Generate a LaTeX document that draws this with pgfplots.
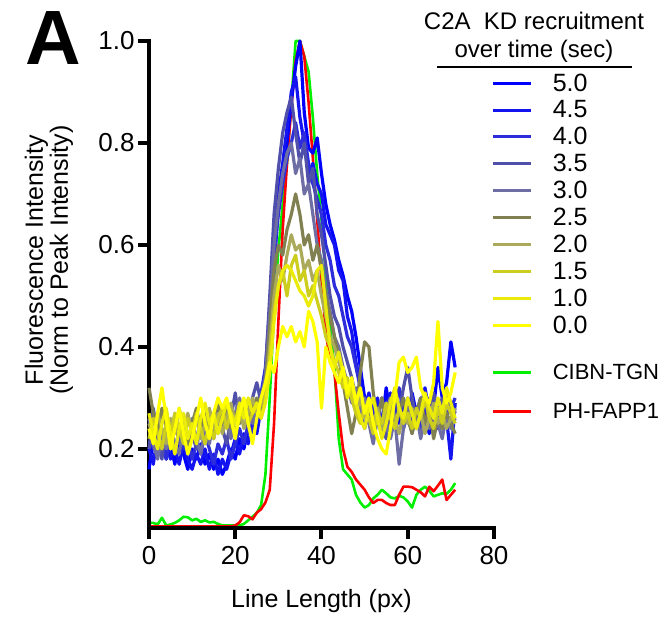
\documentclass[border=0pt]{standalone}
\usepackage{fontspec}
\setmainfont{Liberation Sans}
\usepackage{pgfplots}
\usepackage{pgfplotstable}
\pgfplotsset{compat=1.18}

\definecolor{t50}{RGB}{0,0,255}
\definecolor{t45}{RGB}{20,20,240}
\definecolor{t40}{RGB}{45,45,220}
\definecolor{t35}{RGB}{80,80,170}
\definecolor{t30}{RGB}{110,110,165}
\definecolor{t25}{RGB}{128,128,80}
\definecolor{t20}{RGB}{170,170,90}
\definecolor{t15}{RGB}{205,205,30}
\definecolor{t10}{RGB}{235,235,10}
\definecolor{t00}{RGB}{255,255,0}
\definecolor{tgn}{RGB}{0,240,0}
\definecolor{fapp}{RGB}{255,0,0}

% C2A KD line profiles, one column per time point
\pgfplotstableread{
x s50 s45 s40 s35 s30 s25 s20 s15 s10 s00
0 0.16 0.20 0.24 0.20 0.26 0.32 0.25 0.22 0.27 0.24
1 0.22 0.17 0.20 0.28 0.21 0.27 0.22 0.26 0.23 0.21
2 0.19 0.23 0.26 0.22 0.18 0.23 0.27 0.23 0.20 0.27
3 0.24 0.19 0.21 0.18 0.23 0.28 0.24 0.20 0.25 0.32
4 0.18 0.22 0.18 0.25 0.20 0.24 0.21 0.25 0.28 0.26
5 0.21 0.18 0.23 0.20 0.25 0.22 0.26 0.22 0.23 0.20
6 0.17 0.20 0.19 0.26 0.21 0.27 0.23 0.27 0.19 0.24
7 0.22 0.17 0.24 0.21 0.19 0.23 0.28 0.24 0.24 0.28
8 0.19 0.21 0.20 0.24 0.24 0.26 0.24 0.21 0.27 0.23
9 0.16 0.18 0.22 0.19 0.20 0.21 0.27 0.26 0.22 0.19
10 0.20 0.16 0.18 0.23 0.26 0.25 0.23 0.23 0.25 0.22
11 0.18 0.19 0.21 0.20 0.22 0.28 0.26 0.27 0.21 0.26
12 0.21 0.17 0.19 0.25 0.19 0.24 0.22 0.24 0.26 0.30
13 0.17 0.20 0.23 0.21 0.24 0.27 0.25 0.21 0.29 0.25
14 0.19 0.16 0.20 0.27 0.21 0.23 0.28 0.25 0.25 0.22
15 0.16 0.19 0.17 0.22 0.26 0.26 0.24 0.22 0.27 0.27
16 0.18 0.15 0.21 0.29 0.23 0.29 0.27 0.26 0.23 0.30
17 0.15 0.18 0.19 0.24 0.28 0.25 0.23 0.28 0.26 0.28
18 0.17 0.16 0.22 0.21 0.25 0.28 0.26 0.24 0.29 0.30
19 0.20 0.19 0.18 0.26 0.22 0.24 0.29 0.27 0.27 0.26
20 0.18 0.22 0.21 0.31 0.27 0.27 0.25 0.23 0.25 0.22
21 0.22 0.19 0.24 0.25 0.30 0.25 0.28 0.26 0.29 0.27
22 0.20 0.23 0.21 0.28 0.26 0.29 0.24 0.29 0.26 0.30
23 0.24 0.21 0.25 0.24 0.29 0.26 0.27 0.25 0.30 0.25
24 0.22 0.25 0.23 0.30 0.25 0.28 0.30 0.27 0.27 0.21
25 0.26 0.23 0.27 0.33 0.28 0.30 0.27 0.29 0.29 0.26
26 0.30 0.28 0.31 0.29 0.30 0.27 0.29 0.26 0.26 0.30
27 0.34 0.33 0.36 0.35 0.34 0.32 0.31 0.30 0.29 0.33
28 0.42 0.45 0.48 0.50 0.46 0.44 0.40 0.38 0.35 0.37
29 0.55 0.60 0.58 0.66 0.60 0.55 0.50 0.47 0.45 0.35
30 0.68 0.70 0.66 0.75 0.68 0.60 0.56 0.52 0.52 0.40
31 0.74 0.76 0.72 0.82 0.74 0.58 0.53 0.55 0.55 0.44
32 0.80 0.83 0.77 0.86 0.78 0.63 0.58 0.50 0.56 0.42
33 0.88 0.90 0.80 0.89 0.80 0.66 0.62 0.56 0.55 0.44
34 0.95 0.93 0.84 0.82 0.74 0.70 0.59 0.58 0.53 0.41
35 1.00 0.85 0.79 0.76 0.77 0.66 0.60 0.53 0.51 0.43
36 0.86 0.80 0.82 0.80 0.70 0.60 0.55 0.55 0.50 0.40
37 0.79 0.74 0.76 0.72 0.72 0.62 0.57 0.50 0.48 0.47
38 0.78 0.76 0.72 0.75 0.66 0.57 0.53 0.52 0.50 0.45
39 0.81 0.72 0.69 0.66 0.60 0.60 0.55 0.49 0.55 0.41
40 0.74 0.70 0.66 0.62 0.57 0.55 0.50 0.46 0.56 0.28
41 0.68 0.64 0.60 0.56 0.51 0.50 0.46 0.42 0.48 0.40
42 0.64 0.62 0.57 0.50 0.47 0.46 0.42 0.40 0.40 0.37
43 0.61 0.60 0.52 0.46 0.42 0.42 0.40 0.37 0.36 0.35
44 0.57 0.55 0.50 0.44 0.40 0.38 0.37 0.35 0.39 0.33
45 0.54 0.53 0.46 0.40 0.36 0.33 0.35 0.32 0.35 0.36
46 0.50 0.46 0.42 0.37 0.33 0.28 0.33 0.34 0.30 0.31
47 0.47 0.43 0.40 0.34 0.29 0.23 0.30 0.30 0.33 0.34
48 0.42 0.37 0.36 0.30 0.32 0.27 0.27 0.27 0.29 0.29
49 0.36 0.33 0.32 0.27 0.27 0.35 0.30 0.25 0.26 0.32
50 0.30 0.28 0.29 0.24 0.30 0.41 0.26 0.28 0.24 0.27
51 0.26 0.31 0.25 0.28 0.25 0.40 0.29 0.26 0.28 0.30
52 0.22 0.26 0.29 0.23 0.21 0.31 0.25 0.23 0.30 0.25
53 0.28 0.30 0.26 0.27 0.26 0.26 0.28 0.27 0.26 0.22
54 0.25 0.24 0.30 0.25 0.30 0.30 0.24 0.25 0.22 0.20
55 0.32 0.28 0.27 0.22 0.25 0.25 0.27 0.29 0.25 0.19
56 0.27 0.31 0.24 0.26 0.22 0.28 0.30 0.26 0.29 0.24
57 0.30 0.26 0.28 0.30 0.26 0.24 0.26 0.24 0.32 0.30
58 0.25 0.29 0.32 0.27 0.17 0.27 0.23 0.28 0.28 0.37
59 0.29 0.24 0.27 0.32 0.24 0.30 0.27 0.25 0.26 0.38
60 0.26 0.27 0.30 0.36 0.28 0.26 0.25 0.27 0.30 0.35
61 0.31 0.30 0.25 0.30 0.23 0.23 0.28 0.24 0.27 0.36
62 0.27 0.25 0.28 0.26 0.27 0.27 0.24 0.28 0.24 0.38
63 0.30 0.28 0.24 0.29 0.22 0.30 0.27 0.26 0.27 0.32
64 0.26 0.32 0.27 0.25 0.26 0.25 0.23 0.30 0.31 0.30
65 0.23 0.27 0.30 0.28 0.24 0.28 0.26 0.26 0.28 0.29
66 0.28 0.29 0.26 0.31 0.28 0.22 0.29 0.24 0.26 0.33
67 0.36 0.25 0.24 0.27 0.25 0.26 0.25 0.28 0.30 0.45
68 0.30 0.28 0.27 0.30 0.22 0.24 0.27 0.25 0.27 0.32
69 0.33 0.26 0.31 0.26 0.27 0.27 0.24 0.29 0.32 0.29
70 0.41 0.18 0.28 0.29 0.24 0.25 0.26 0.27 0.29 0.31
71 0.36 0.29 0.30 0.27 0.26 0.23 0.28 0.25 0.26 0.35
}\kdtable

% reference markers
\pgfplotstableread{
x tgn fapp
0 0.055 0.048
1 0.055 0.048
2 0.052 0.048
3 0.065 0.048
4 0.050 0.048
5 0.052 0.048
6 0.055 0.048
7 0.060 0.048
8 0.067 0.048
9 0.066 0.048
10 0.060 0.048
11 0.063 0.048
12 0.057 0.048
13 0.060 0.048
14 0.056 0.048
15 0.057 0.048
16 0.053 0.048
17 0.050 0.048
18 0.050 0.048
19 0.050 0.048
20 0.050 0.050
21 0.050 0.056
22 0.053 0.070
23 0.060 0.068
24 0.067 0.062
25 0.075 0.075
26 0.090 0.082
27 0.150 0.095
28 0.300 0.120
29 0.470 0.250
30 0.590 0.450
31 0.680 0.630
32 0.760 0.760
33 0.880 0.870
34 1.000 0.960
35 1.000 1.000
36 0.970 0.970
37 0.940 0.880
38 0.850 0.770
39 0.740 0.650
40 0.650 0.530
41 0.540 0.430
42 0.440 0.370
43 0.360 0.350
44 0.220 0.270
45 0.160 0.200
46 0.150 0.165
47 0.140 0.155
48 0.110 0.140
49 0.095 0.130
50 0.085 0.120
51 0.090 0.105
52 0.103 0.094
53 0.110 0.100
54 0.120 0.100
55 0.113 0.094
56 0.105 0.090
57 0.103 0.090
58 0.108 0.110
59 0.105 0.126
60 0.097 0.126
61 0.085 0.125
62 0.110 0.120
63 0.120 0.115
64 0.126 0.107
65 0.118 0.126
66 0.107 0.117
67 0.110 0.128
68 0.113 0.140
69 0.112 0.100
70 0.120 0.110
71 0.133 0.120
}\reftable

\pgfplotsset{
  base/.style={
    width=345pt, height=487pt, scale only axis,
    xmin=0, xmax=80, ymin=0.045, ymax=1.0,
    clip=false, at={(0,0)}, anchor=south west,
    legend cell align=left,
    legend image code/.code={\draw[##1, line width=3pt] (0pt,0pt) -- (38pt,0pt);},
  },
  kd/.style={line width=3.2pt, line join=round},
  rf/.style={line width=2.6pt, line join=round},
}

\begin{document}
\begin{tikzpicture}
\path (-149pt,-89pt) rectangle (518pt,528pt);

% green and red underneath, with their own small legend
\begin{axis}[base, hide axis,
  legend style={at={(0.993,0.337)}, anchor=north west, draw=none, fill=none,
    font=\fontsize{22}{22}\selectfont, row sep=22pt, column sep=20pt,
    inner sep=0pt, nodes={inner sep=0pt}}]
  \addplot[rf, tgn] table[x=x, y=tgn] {\reftable};
  \addlegendentry{CIBN-TGN}
  \addplot[rf, fapp] table[x=x, y=fapp] {\reftable};
  \addlegendentry{PH-FAPP1}
\end{axis}

\begin{axis}[base, name=main,
  axis x line*=bottom, axis y line*=left,
  axis line style={-, line width=4pt, line cap=rect},
  xtick={0,20,40,60,80}, ytick={0.2,0.4,0.6,0.8,1.0},
  tick align=outside, major tick length=11pt,
  tick style={line width=4pt, black},
  /pgf/number format/assume math mode=true,
  yticklabel style={/pgf/number format/.cd, fixed, fixed zerofill, precision=1},
  xticklabel style={yshift=-4pt},
  ticklabel style={font=\fontsize{26}{26}\selectfont},
  label style={font=\fontsize{25}{25}\selectfont},
  xlabel={Line Length (px)},
  xlabel style={at={(axis description cs:0.5,-0.164)}, anchor=base},
  ylabel={Fluorescence Intensity\\(Norm to Peak Intensity)},
  ylabel style={at={(axis description cs:-0.29,0.55)}, anchor=center, align=center},
  legend style={at={(0.993,0.933)}, anchor=north west, draw=none, fill=none,
    font=\fontsize{25}{25}\selectfont, row sep=8pt, column sep=20pt,
    inner sep=0pt, nodes={inner sep=0pt}}]
  \addplot[kd, t50] table[x=x, y=s50] {\kdtable}; \addlegendentry{5.0}
  \addplot[kd, t45] table[x=x, y=s45] {\kdtable}; \addlegendentry{4.5}
  \addplot[kd, t40] table[x=x, y=s40] {\kdtable}; \addlegendentry{4.0}
  \addplot[kd, t35] table[x=x, y=s35] {\kdtable}; \addlegendentry{3.5}
  \addplot[kd, t30] table[x=x, y=s30] {\kdtable}; \addlegendentry{3.0}
  \addplot[kd, t25] table[x=x, y=s25] {\kdtable}; \addlegendentry{2.5}
  \addplot[kd, t20] table[x=x, y=s20] {\kdtable}; \addlegendentry{2.0}
  \addplot[kd, t15] table[x=x, y=s15] {\kdtable}; \addlegendentry{1.5}
  \addplot[kd, t10] table[x=x, y=s10] {\kdtable}; \addlegendentry{1.0}
  \addplot[kd, t00] table[x=x, y=s00] {\kdtable}; \addlegendentry{0.0}
\end{axis}

% legend heading and panel letter
\node[anchor=base, font=\fontsize{24}{24}\selectfont] at ([shift={(385pt,498pt)}]main.south west) {C2A\ \ KD recruitment};
\node[anchor=base, font=\fontsize{24}{24}\selectfont] at ([shift={(385pt,470pt)}]main.south west) {over time (sec)};
\draw[line width=1.5pt] ([shift={(288pt,461pt)}]main.south west) -- ([shift={(483pt,461pt)}]main.south west);
\node[anchor=base west, inner sep=0pt, font=\fontsize{77}{77}\selectfont\bfseries] at ([shift={(-124pt,463pt)}]main.south west) {A};
\end{tikzpicture}
\end{document}
